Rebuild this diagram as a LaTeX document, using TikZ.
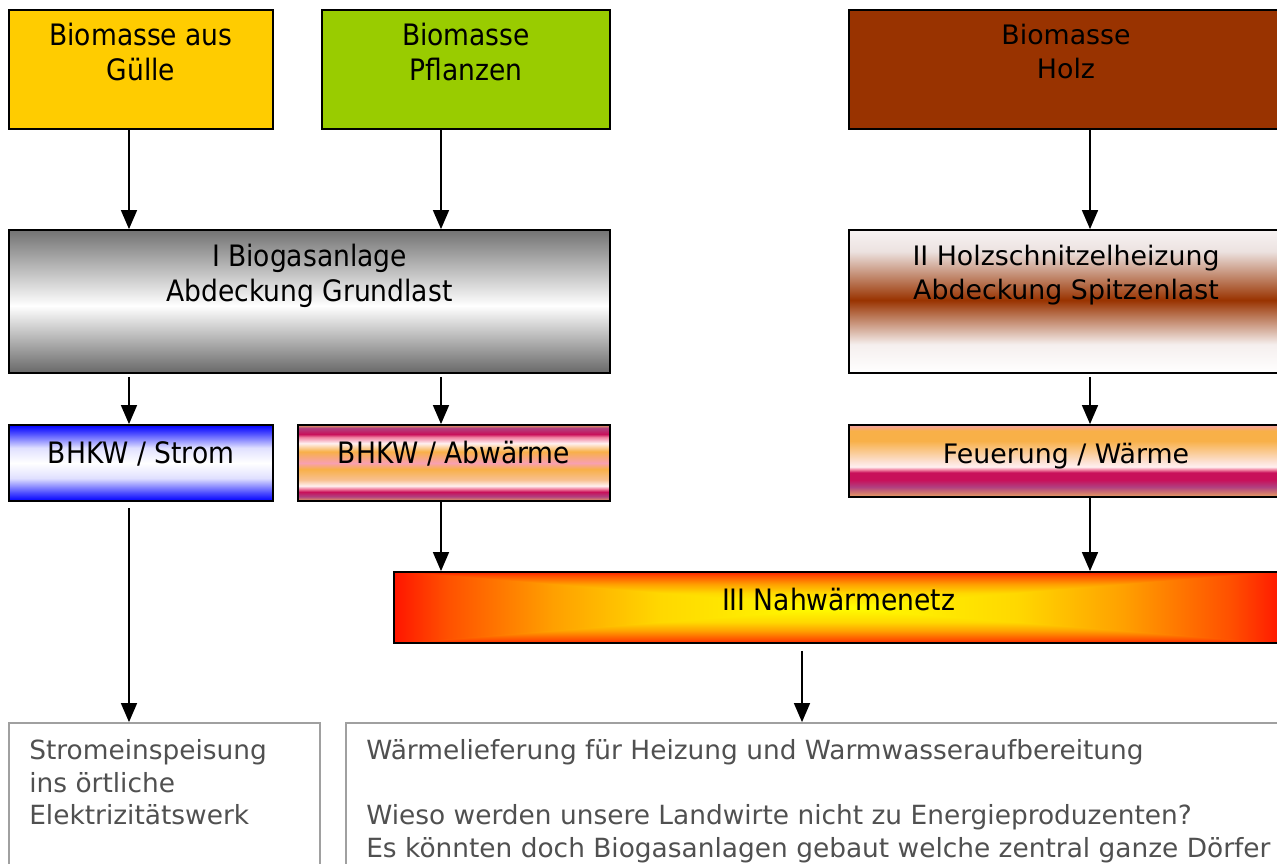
\documentclass[tikz,border=0pt]{standalone}
\usepackage{fontspec}
\setmainfont{DejaVu Sans}
\newfontfamily\condfont{DejaVu Sans Condensed}
\usetikzlibrary{arrows.meta,positioning,backgrounds}

\definecolor{guelleGelb}{HTML}{FFCC00}
\definecolor{pflanzenGruen}{HTML}{99CC00}
\definecolor{holzBraun}{HTML}{993300}
\definecolor{rahmenGrau}{HTML}{A0A0A0}
\definecolor{textGrau}{HTML}{505050}
% Verlaeufe
\definecolor{grauOben}{HTML}{737373}
\definecolor{grauUnten}{HTML}{686868}
\definecolor{hackOben}{HTML}{F7F3F3}
\definecolor{hackHell}{HTML}{ECE2E0}
\definecolor{hackUnten}{HTML}{F5EFEE}
\definecolor{blauVoll}{HTML}{0000FF}
\definecolor{blauHell}{HTML}{4545FF}
\definecolor{blauBlass}{HTML}{E0E0FF}
\definecolor{orangeRand}{HTML}{E8A060}
\definecolor{lila}{HTML}{B04080}
\definecolor{karmin}{HTML}{C8105A}
\definecolor{rosa}{HTML}{F080A0}
\definecolor{rosaHell}{HTML}{F8A0B0}
\definecolor{weissRosa}{HTML}{FFF0F0}
\definecolor{orangeHell}{HTML}{F8B048}
\definecolor{pfirsich}{HTML}{F8C090}
\definecolor{feuerOben}{HTML}{F4A0A8}
\definecolor{feuerMitte}{HTML}{FCE0D0}
\definecolor{netzRot}{HTML}{FF1400}
\definecolor{netzRotOrange}{HTML}{FF5000}
\definecolor{netzOrange}{HTML}{FFA000}
\definecolor{netzGold}{HTML}{FFD800}
\definecolor{netzGelb}{HTML}{FFFF00}

\pgfdeclareverticalshading{grundlast}{100bp}{color(0bp)=(grauUnten); color(25bp)=(grauUnten);
  color(48.5bp)=(white); color(75bp)=(grauOben); color(100bp)=(grauOben)}
\pgfdeclareverticalshading{spitzenlast}{100bp}{color(0bp)=(white); color(25bp)=(white);
  color(35bp)=(hackUnten); color(50.5bp)=(holzBraun); color(67.5bp)=(hackHell);
  color(75bp)=(hackOben); color(100bp)=(hackOben)}
\pgfdeclareverticalshading{stromblau}{100bp}{color(0bp)=(blauVoll); color(25bp)=(blauVoll);
  color(30bp)=(blauHell); color(40bp)=(blauBlass); color(50bp)=(white); color(60bp)=(blauBlass);
  color(70bp)=(blauHell); color(75bp)=(blauVoll); color(100bp)=(blauVoll)}
\pgfdeclareverticalshading{abwaermestreifen}{100bp}{color(0bp)=(orangeRand); color(25bp)=(orangeRand);
  color(28bp)=(lila); color(31bp)=(karmin); color(33bp)=(rosa); color(35bp)=(weissRosa);
  color(39bp)=(pfirsich); color(46bp)=(orangeHell); color(50bp)=(rosaHell);
  color(57.5bp)=(orangeHell); color(63bp)=(weissRosa); color(67bp)=(rosa); color(69bp)=(karmin);
  color(73bp)=(lila); color(75bp)=(orangeRand); color(100bp)=(orangeRand)}
\pgfdeclareverticalshading{feuerstreifen}{100bp}{color(0bp)=(orangeRand); color(25bp)=(orangeRand);
  color(32bp)=(lila); color(37bp)=(karmin); color(42bp)=(karmin); color(44bp)=(rosa);
  color(46bp)=(weissRosa); color(50bp)=(feuerMitte); color(64bp)=(orangeHell);
  color(71bp)=(orangeHell); color(75bp)=(feuerOben); color(100bp)=(feuerOben)}
\pgfdeclarehorizontalshading{netzquer}{100bp}{color(0bp)=(netzRot); color(25bp)=(netzRot);
  color(28bp)=(netzRotOrange); color(34bp)=(netzOrange); color(40bp)=(netzGold);
  color(50bp)=(netzGelb); color(60bp)=(netzGold); color(66bp)=(netzOrange);
  color(72bp)=(netzRotOrange); color(75bp)=(netzRot); color(100bp)=(netzRot)}
\pgfdeclareverticalshading{netzhoch}{100bp}{color(0bp)=(netzRot); color(25bp)=(netzRot);
  color(28bp)=(netzRotOrange); color(34bp)=(netzOrange); color(40bp)=(netzGold);
  color(50bp)=(netzGelb); color(60bp)=(netzGold); color(66bp)=(netzOrange);
  color(72bp)=(netzRotOrange); color(75bp)=(netzRot); color(100bp)=(netzRot)}

\begin{document}
\begin{tikzpicture}[x=1pt, y=-1pt,
    box/.style = {draw=black, line width=1.8pt, inner sep=0pt},
    info/.style = {draw=rahmenGrau, line width=1.8pt, inner sep=0pt},
    links/.style = {font=\condfont\fontsize{29.5}{34.5}\selectfont, align=center, inner sep=0pt},
    rechts/.style = {font=\fontsize{26.8}{34}\selectfont, align=center, inner sep=0pt},
    infotext/.style = {font=\fontsize{26.4}{32.7}\selectfont, text=textGrau, align=left, inner sep=0pt},
    arrow/.style = {line width=1.5pt, -{Triangle[width=16pt,length=19pt]}}]
    \useasboundingbox (0,0) rectangle (1277,864);
    \clip (0,0) rectangle (1277,864);

    % Biomasse
    \node [box, fill=guelleGelb, minimum width=264, minimum height=119] (guelle) at (141,69.5) {};
    \node [links, below=14pt of guelle.north] (guelletext) {Biomasse aus\\Gülle};
    \node [box, fill=pflanzenGruen, minimum width=288, minimum height=119] (pflanzen) at (466,69.5) {};
    \node [links, below=14pt of pflanzen.north] (pflanzentext) {Biomasse\\Pflanzen};
    \node [box, fill=holzBraun, minimum width=434, minimum height=119] (holz) at (1066,69.5) {};
    \node [rechts, below=15pt of holz.north] (holztext) {Biomasse\\Holz};

    % Anlagen
    \node [box, shade, shading=grundlast, minimum width=601, minimum height=143] (biogas) at (309.5,301.5) {};
    \node [links, below=15pt of biogas.north] (biogastext) {I Biogasanlage\\Abdeckung Grundlast};
    \node [box, shade, shading=spitzenlast, minimum width=434, minimum height=143] (hackschnitzel) at (1066,301.5) {};
    \node [rechts, below=15.5pt of hackschnitzel.north] (hacktext) {II Holzschnitzelheizung\\Abdeckung Spitzenlast};

    \node [box, shade, shading=stromblau, minimum width=264, minimum height=76] (strom) at (141,463) {};
    \node [links, below=17pt of strom.north] (stromtext) {BHKW / Strom};
    \node [box, shade, shading=abwaermestreifen, minimum width=312, minimum height=76] (abwaerme) at (454,463) {};
    \node [links, below=17pt of abwaerme.north] (abwaermetext) {BHKW / Abwärme};
    \node [box, shade, shading=feuerstreifen, minimum width=434, minimum height=72] (feuerung) at (1066,461) {};
    \node [rechts, below=18.5pt of feuerung.north] (feuertext) {Feuerung / Wärme};

    % Nahwaermenetz
    \node [box, minimum width=889, minimum height=71] (netz) at (838.5,607.5) {};
    \node [links, below=17pt of netz.north] (netztext) {III Nahwärmenetz};
    \begin{scope}[on background layer]
        \shade [shading=netzquer] (netz.north west) rectangle (netz.south east);
        \begin{scope}
            \clip (netz.north west) -- (netz.center) -- (netz.north east) -- cycle
                  (netz.south west) -- (netz.center) -- (netz.south east) -- cycle;
            \shade [shading=netzhoch] (netz.north west) rectangle (netz.south east);
        \end{scope}
    \end{scope}

    % Abnehmer
    \node [info, minimum width=311, minimum height=177] (einspeisung) at (164.5,811.5) {};
    \node [infotext, below right=17pt and 21pt of einspeisung.north west] (einspeisungtext)
        {Stromeinspeisung\\ins örtliche\\Elektrizitätswerk};
    \node [info, minimum width=954, minimum height=177] (lieferung) at (823,811.5) {};
    \node [infotext, below right=17pt and 21pt of lieferung.north west] (lieferungtext)
        {Wärmelieferung für Heizung und Warmwasseraufbereitung\\[32.7pt]
         Wieso werden unsere Landwirte nicht zu Energieproduzenten?\\
         Es könnten doch Biogasanlagen gebaut welche zentral ganze Dörfer};

    % Pfeile
    \draw [arrow] ([xshift=-12pt]guelle.south) -- ([xshift=-12pt]guelle.south |- biogas.north);
    \draw [arrow] ([xshift=-25pt]pflanzen.south) -- ([xshift=-25pt]pflanzen.south |- biogas.north);
    \draw [arrow] ([xshift=24pt]holz.south) -- ([xshift=24pt]holz.south |- hackschnitzel.north);
    \draw [arrow, shorten <=3pt] ([xshift=-12pt]strom.north |- biogas.south) -- ([xshift=-12pt]strom.north);
    \draw [arrow, shorten <=3pt] ([xshift=-13pt]abwaerme.north |- biogas.south) -- ([xshift=-13pt]abwaerme.north);
    \draw [arrow, shorten <=3pt] ([xshift=24pt]feuerung.north |- hackschnitzel.south) -- ([xshift=24pt]feuerung.north);
    \draw [arrow] ([xshift=-13pt]abwaerme.south) -- ([xshift=-13pt]abwaerme.south |- netz.north);
    \draw [arrow] ([xshift=24pt]feuerung.south) -- ([xshift=24pt]feuerung.south |- netz.north);
    \draw [arrow, shorten <=6pt] ([xshift=-12pt]strom.south) -- ([xshift=-12pt]strom.south |- einspeisung.north);
    \draw [arrow, shorten <=7pt] ([xshift=-36.5pt]netz.south) -- ([xshift=-36.5pt]netz.south |- lieferung.north);
\end{tikzpicture}
\end{document}
